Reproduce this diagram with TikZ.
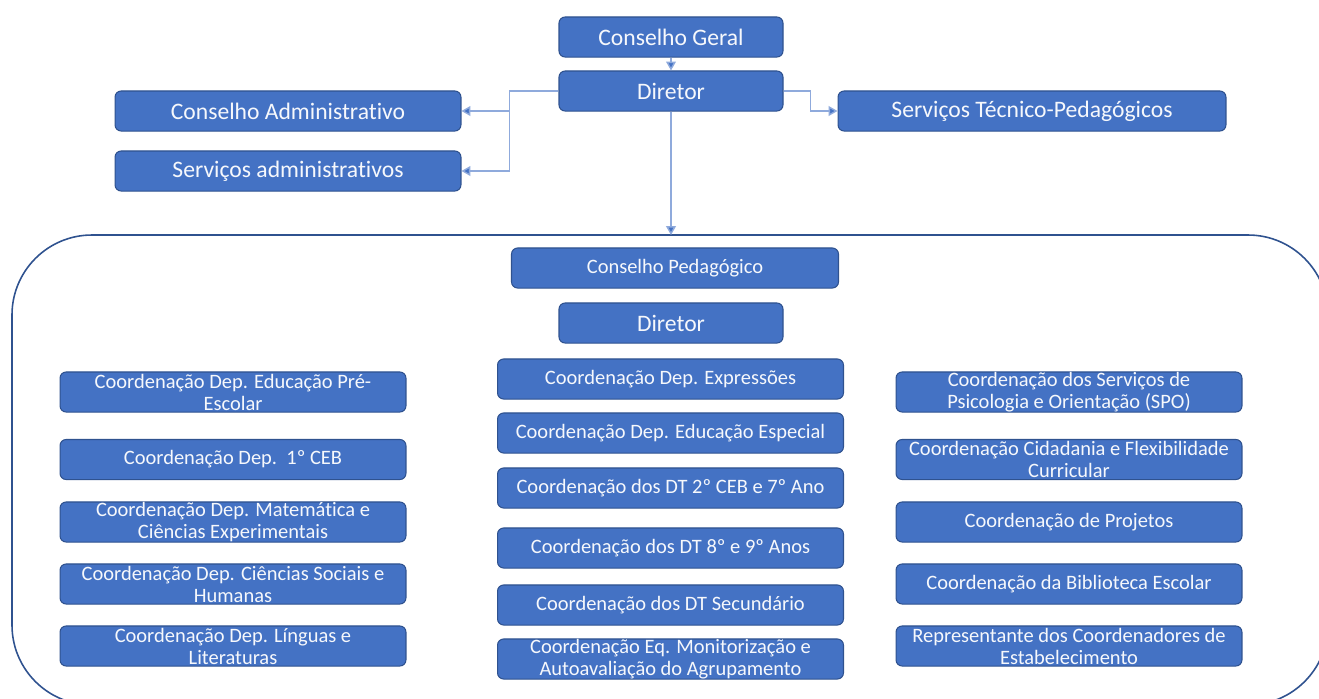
\documentclass[tikz,border=0pt]{standalone}
\usepackage{fontspec}
\setmainfont{Carlito}[Ligatures=NoCommon]
\usetikzlibrary{arrows.meta}

\definecolor{boxblue}{HTML}{4472C4}
\definecolor{boxedge}{HTML}{2F528F}
\definecolor{linkblue}{HTML}{8FAADC}

\tikzset{
  box/.style={draw=boxedge, line width=0.6pt, fill=boxblue, text=white!95!boxblue,
    rounded corners=3.5pt, align=center, inner sep=0pt, minimum height=22.8pt},
  bigtext/.style={font=\fontsize{13.45}{14.4}\selectfont},
  smalltext/.style={font=\fontsize{11.65}{12.5}\selectfont},
  colbox/.style={box, smalltext, minimum width=196.9pt},
  link/.style={draw=linkblue, line width=0.8pt,
    -{Triangle[width=5.5pt,length=5pt,fill=boxblue]}}
}

\begin{document}
\begin{tikzpicture}[x=0.02cm, y=-0.02cm]

% Define frame of the picture
\useasboundingbox (0,0) rectangle (1319,698);

% Big rounded frame round the pedagogic part
\begin{scope}
  \clip (0,0) rectangle (1319,698);
  \draw[boxedge, line width=0.9pt, rounded corners=45.5pt] (12,235) rectangle (1328,705);
\end{scope}
\coordinate (T) at (671,235);

% Top boxes
\node[box, bigtext, minimum width=127.5pt] (cg) at (671,37) {Conselho Geral};
\node[box, bigtext, minimum width=127.5pt] (dir) at (671,91) {Diretor};
\node[box, bigtext, minimum width=196.9pt] (cadm) at (288,111) {Conselho Administrativo};
\node[box, bigtext, minimum width=196.9pt] (sadm) at (288,171) {Serviços administrativos};
\node[box, bigtext, minimum width=220.8pt] (stp) at (1032,111) {Serviços Técnico-Pedagógicos};

% Connectors from Diretor
\draw[link] (cg) -- (dir);
\draw[link] (dir.west) -- ++(-49,0) |- (cadm.east);
\draw[link] (dir.west) -- ++(-49,0) |- (sadm.east);
\draw[link] (dir.east) -- ++(27,0) |- (stp.west);
\draw[link] (dir.south) -- (T);

% Pedagogic part
\node[box, smalltext, minimum width=186.1pt] (cped) at (675,268) {Conselho Pedagógico};
\node[box, bigtext, minimum width=127.5pt] (dirp) at (671,323) {Diretor};

% Left column
\node[colbox] (l1) at (233,392) {Coordenação Dep. Educação Pré-\\Escolar};
\node[colbox] (l2) at (233,459.5) {Coordenação Dep.\ \ 1º CEB};
\node[colbox] (l3) at (233,522) {Coordenação Dep. Matemática e\\Ciências Experimentais};
\node[colbox] (l4) at (233,584) {Coordenação Dep. Ciências Sociais e\\Humanas};
\node[colbox] (l5) at (233,646) {Coordenação Dep. Línguas e\\Literaturas};

% Middle column
\node[colbox] (m1) at (670.5,379) {Coordenação Dep. Expressões};
\node[colbox] (m2) at (670.5,433) {Coordenação Dep. Educação Especial};
\node[colbox] (m3) at (670.5,488) {Coordenação dos DT 2º CEB e 7º Ano};
\node[colbox] (m4) at (670.5,548) {Coordenação dos DT 8º e 9º Anos};
\node[colbox] (m5) at (670.5,605) {Coordenação dos DT Secundário};
\node[colbox] (m6) at (670.5,659) {Coordenação Eq. Monitorização e\\Autoavaliação do Agrupamento};

% Right column
\node[colbox] (r1) at (1069,392) {Coordenação dos Serviços de\\Psicologia e Orientação (SPO)};
\node[colbox] (r2) at (1069,459.5) {Coordenação Cidadania e Flexibilidade\\Curricular};
\node[colbox] (r3) at (1069,522) {Coordenação de Projetos};
\node[colbox] (r4) at (1069,584) {Coordenação da Biblioteca Escolar};
\node[colbox] (r5) at (1069,646) {Representante dos Coordenadores de\\Estabelecimento};

\end{tikzpicture}
\end{document}
